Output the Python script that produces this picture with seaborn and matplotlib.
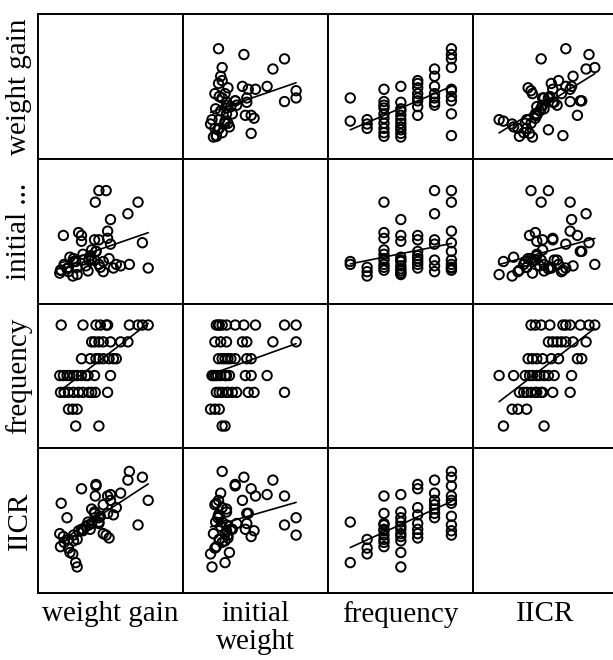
import pandas as pd
import numpy as np
import matplotlib
matplotlib.use('Agg')
import matplotlib.pyplot as plt
import seaborn as sns

# values (position within each panel, 0-100; frequency 1-7)
weight_gain = [26, 42,
               21, 24, 27,
               15.5, 18, 21, 24.5, 28, 31, 35, 37, 39.5, 48,
               15, 17.5, 20, 22, 24.5, 27, 30, 33, 34.5, 39, 50,
               30, 36, 40, 42, 45, 49, 52, 54,
               37, 39, 42, 45, 50, 57, 62,
               16, 31, 40, 43, 47, 48, 63, 69, 72, 76]
initial_weight = [29, 27,
                  22, 19, 25,
                  23, 27, 25, 31, 49, 34, 30, 37, 70, 45,
                  21, 47, 24, 32, 29, 20, 43, 26, 22.5, 30, 58,
                  47, 33, 36, 44, 29, 31, 24.5, 27,
                  30, 44, 78, 22, 41, 26, 62,
                  23, 30, 36, 25, 78, 50, 27, 70, 42, 24.5]
frequency = [1, 1,
             2, 2, 2,
             3, 3, 3, 3, 3, 3, 3, 3, 3, 3,
             4, 4, 4, 4, 4, 4, 4, 4, 4, 4, 4,
             5, 5, 5, 5, 5, 5, 5, 5,
             6, 6, 6, 6, 6, 6, 6,
             7, 7, 7, 7, 7, 7, 7, 7, 7, 7]
iicr = [21, 49,
        31, 27, 37,
        32, 35, 37, 40, 43, 44, 47, 48, 67, 55,
        41, 39, 52, 28, 36, 18, 44, 46, 49, 56, 68,
        72, 44, 75, 48, 41, 38, 54, 59,
        58, 55, 52, 61, 64, 69, 78,
        62, 43, 74, 53, 40, 67, 84, 47, 80, 64]

columns = ['weight gain', 'initial weight', 'frequency', 'IICR']
row_labels = ['weight gain', 'initial ...', 'frequency', 'IICR']
col_labels = ['weight gain', 'initial\nweight', 'frequency', 'IICR']
limits = {'weight gain': (0, 100), 'initial weight': (0, 100),
          'frequency': (-0.32, 8.28), 'IICR': (0, 100)}

df = pd.DataFrame({'weight gain': weight_gain, 'initial weight': initial_weight,
                   'frequency': frequency, 'IICR': iicr})

sns.set_theme(style='white')
plt.rcParams['font.family'] = ['Liberation Serif', 'DejaVu Serif']
plt.rcParams['text.color'] = 'black'
plt.rcParams['axes.labelcolor'] = 'black'

g = sns.PairGrid(df, vars=columns, despine=False, height=1.5)
g.map_offdiag(sns.regplot, ci=None, truncate=True, color='black', marker='o',
              scatter_kws=dict(facecolors='none', s=46, linewidths=1.4, alpha=1),
              line_kws=dict(lw=1.2))

for i, row in enumerate(columns):
    for j, col in enumerate(columns):
        ax = g.axes[i, j]
        ax.set_xlim(limits[col])
        ax.set_ylim(limits[row])
        ax.set_xticks([])
        ax.set_yticks([])
        ax.set_xlabel('')
        ax.set_ylabel('')
        for s in ax.spines.values():
            s.set_visible(True)
            s.set_color('black')
            s.set_linewidth(1.4)

for j, lab in enumerate(col_labels):
    g.axes[3, j].set_xlabel(lab, fontsize=21, labelpad=6, linespacing=1.1)
for i, lab in enumerate(row_labels):
    g.axes[i, 0].set_ylabel(lab, fontsize=21, labelpad=4)

g.figure.set_size_inches(6.13, 6.6)
g.figure.subplots_adjust(left=38/613, right=618/613, bottom=1-593/660, top=1-14/660,
                         wspace=0, hspace=0)
g.figure.savefig('out.png', dpi=100)
